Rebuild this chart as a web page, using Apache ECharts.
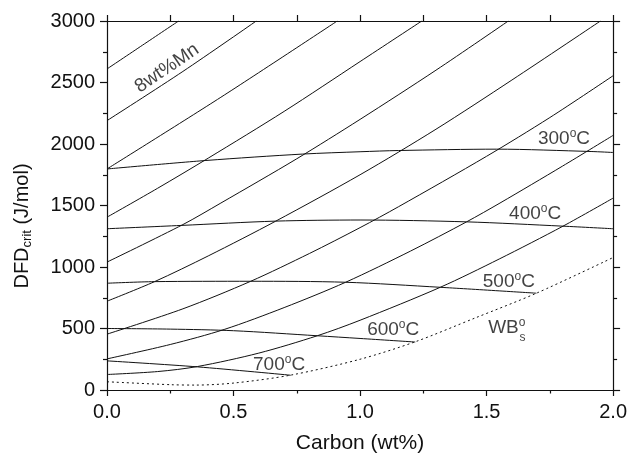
<!DOCTYPE html>
<html><head><meta charset="utf-8">
<script src="https://cdn.jsdelivr.net/npm/echarts@6/dist/echarts.min.js"></script>
<style>html,body{margin:0;padding:0;background:#fff}#c{width:630px;height:459px}</style>
</head><body><div id="c"></div>
<script>
// Tick labels
const xTickLabels = ['0.0', '0.5', '1.0', '1.5', '2.0'];
const yTickLabels = ['0', '500', '1000', '1500', '2000', '2500', '3000'];

// Iso-Mn curves: [Carbon wt%, DFDcrit J/mol]
const mn1 = [[0, 2610], [0.14, 2803], [0.283, 3000]];
const mn2 = [[0, 2190], [0.3, 2590], [0.59, 3000]];
const mn3 = [[0, 1797], [0.45, 2380], [0.91, 3000]];
const mn4 = [[0, 1405], [0.2, 1640], [0.4, 1885], [0.7, 2265], [1.0, 2670], [1.244, 3000]];
const mn5 = [[0, 1040], [0.3, 1345], [0.45, 1520], [0.75, 1880], [1.0, 2200], [1.3, 2600], [1.586, 3000]];
const mn6 = [[0, 722], [0.188, 881], [0.4, 1090], [0.667, 1373], [1.0, 1750], [1.3, 2120], [1.6, 2520], [1.95, 3000]];
const mn7 = [[0, 454], [0.3, 660], [0.568, 884], [0.8, 1110], [1.0, 1320], [1.152, 1490], [1.5, 1900], [1.75, 2215], [2.0, 2555]];
const mn8 = [[0, 253], [0.25, 370], [0.463, 492], [0.7, 670], [0.943, 876], [1.2, 1130], [1.421, 1367], [1.553, 1520], [1.8, 1820], [2.0, 2070]];
const mn9 = [[0, 126], [0.2, 150], [0.358, 191], [0.6, 300], [0.831, 441], [1.0, 567], [1.317, 835], [1.55, 1065], [1.802, 1332], [2.0, 1560]];

// Isotherms
const t300 = [[0, 1797], [0.391, 1866], [0.772, 1918], [1.0, 1937], [1.152, 1947], [1.54, 1958], [1.913, 1939], [2.0, 1931]];
const t400 = [[0, 1311], [0.293, 1338], [0.667, 1373], [1.0, 1382], [1.421, 1367], [1.802, 1332], [2.0, 1311]];
const t500 = [[0, 868], [0.188, 881], [0.568, 884], [0.943, 876], [1.317, 835], [1.697, 787]];
const t600 = [[0, 500], [0.25, 495], [0.5, 482], [0.831, 441], [1.0, 419], [1.218, 390]];
const t700 = [[0, 237], [0.358, 188], [0.726, 120]];

// WBs boundary (dotted)
const wbs = [[0, 67], [0.253, 43], [0.35, 40], [0.503, 57], [0.726, 121], [1.0, 250], [1.218, 392], [1.454, 585], [1.697, 787], [2.0, 1077]];

// Annotation texts anchored in data coordinates
const annotations = [
  { text: '{t|8wt%Mn}', at: [0.237, 2616], rotate: 34 },
  { text: '{t|300}{sup|o}{t|C}', at: [1.806, 2040] },
  { text: '{t|400}{sup|o}{t|C}', at: [1.692, 1436] },
  { text: '{t|500}{sup|o}{t|C}', at: [1.588, 884] },
  { text: '{t|600}{sup|o}{t|C}', at: [1.131, 489] },
  { text: '{t|700}{sup|o}{t|C}', at: [0.680, 207] },
  { text: '{t|WB}{sup|o}', at: [1.580, 509] },
  { text: '{sub|s}', at: [1.642, 429] }
];

const FONT = '"Liberation Sans", Arial, Helvetica, sans-serif';
const rich = {
  t: { fontSize: 19, lineHeight: 22, fontFamily: FONT, color: '#111' },
  sup: { fontSize: 12, lineHeight: 12, verticalAlign: 'top', fontFamily: FONT, color: '#111' },
  sub: { fontSize: 12, lineHeight: 12, fontFamily: FONT, color: '#111' }
};

const chart = echarts.init(document.getElementById('c'), null, { renderer: 'canvas' });

function curve(data, opts) {
  return Object.assign({
    type: 'line', data: data, showSymbol: false, symbol: 'none', smooth: 0.3,
    silent: true, animation: false, clip: true,
    lineStyle: { color: '#111', width: 1 }
  }, opts || {});
}

const axisLineStyle = { color: '#111', width: 1.2 };
const labelStyle = { color: '#111', fontSize: 20, fontFamily: FONT };

const option = {
  animation: false,
  backgroundColor: '#fff',
  grid: { left: 107, right: 15, top: 21, bottom: 65 },
  xAxis: [
    {
      type: 'value', min: 0, max: 2, interval: 0.5, position: 'bottom',
      axisLine: { show: true, onZero: false, lineStyle: axisLineStyle },
      axisTick: { show: true, length: 6, lineStyle: axisLineStyle },
      minorTick: { show: true, splitNumber: 2, length: 3.5, lineStyle: axisLineStyle },
      splitLine: { show: false }, minorSplitLine: { show: false },
      axisLabel: Object.assign({ margin: 12, formatter: v => xTickLabels[Math.round(v / 0.5)] }, labelStyle),
      name: 'Carbon (wt%)', nameLocation: 'middle', nameGap: 43,
      nameTextStyle: { color: '#111', fontSize: 21, fontFamily: FONT }
    },
    {
      type: 'value', min: 0, max: 2, interval: 0.25, position: 'top',
      axisLine: { show: true, onZero: false, lineStyle: axisLineStyle },
      axisTick: { show: true, length: 6, lineStyle: axisLineStyle },
      splitLine: { show: false },
      axisLabel: { show: false }
    }
  ],
  yAxis: [
    {
      type: 'value', min: 0, max: 3000, interval: 500, position: 'left',
      axisLine: { show: true, onZero: false, lineStyle: axisLineStyle },
      axisTick: { show: true, length: 7, lineStyle: axisLineStyle },
      minorTick: { show: true, splitNumber: 2, length: 4, lineStyle: axisLineStyle },
      splitLine: { show: false }, minorSplitLine: { show: false },
      axisLabel: Object.assign({ margin: 12, formatter: v => yTickLabels[Math.round(v / 500)] }, labelStyle)
    },
    {
      type: 'value', min: 0, max: 3000, interval: 500, position: 'right',
      axisLine: { show: true, onZero: false, lineStyle: axisLineStyle },
      axisTick: { show: true, length: 7, lineStyle: axisLineStyle },
      minorTick: { show: true, splitNumber: 2, length: 4, lineStyle: axisLineStyle },
      splitLine: { show: false },
      axisLabel: { show: false }
    }
  ],
  graphic: [
    {
      type: 'text', x: 22, y: 226, rotation: Math.PI / 2,
      style: {
        text: '{m|DFD}{s|crit}{m| (J/mol)}',
        align: 'center', verticalAlign: 'middle',
        rich: {
          m: { fontSize: 20, lineHeight: 24, fontFamily: FONT, fill: '#111' },
          s: { fontSize: 13, lineHeight: 13, verticalAlign: 'bottom', fontFamily: FONT, fill: '#111' }
        }
      }
    }
  ],
  series: [
    curve(mn1), curve(mn2), curve(mn3), curve(mn4), curve(mn5),
    curve(mn6), curve(mn7), curve(mn8), curve(mn9),
    curve(t300), curve(t400), curve(t500), curve(t600), curve(t700),
    curve(wbs, { lineStyle: { color: '#111', width: 1, type: [2, 3] } }),
    {
      type: 'scatter', silent: true, animation: false,
      symbol: 'circle', symbolSize: 1, itemStyle: { color: 'rgba(0,0,0,0)' },
      data: annotations.map(a => ({
        value: a.at,
        label: {
          show: true, position: 'inside', formatter: a.text,
          rotate: a.rotate || 0, rich: rich
        }
      }))
    }
  ]
};
chart.setOption(option);
</script>
</body></html>
